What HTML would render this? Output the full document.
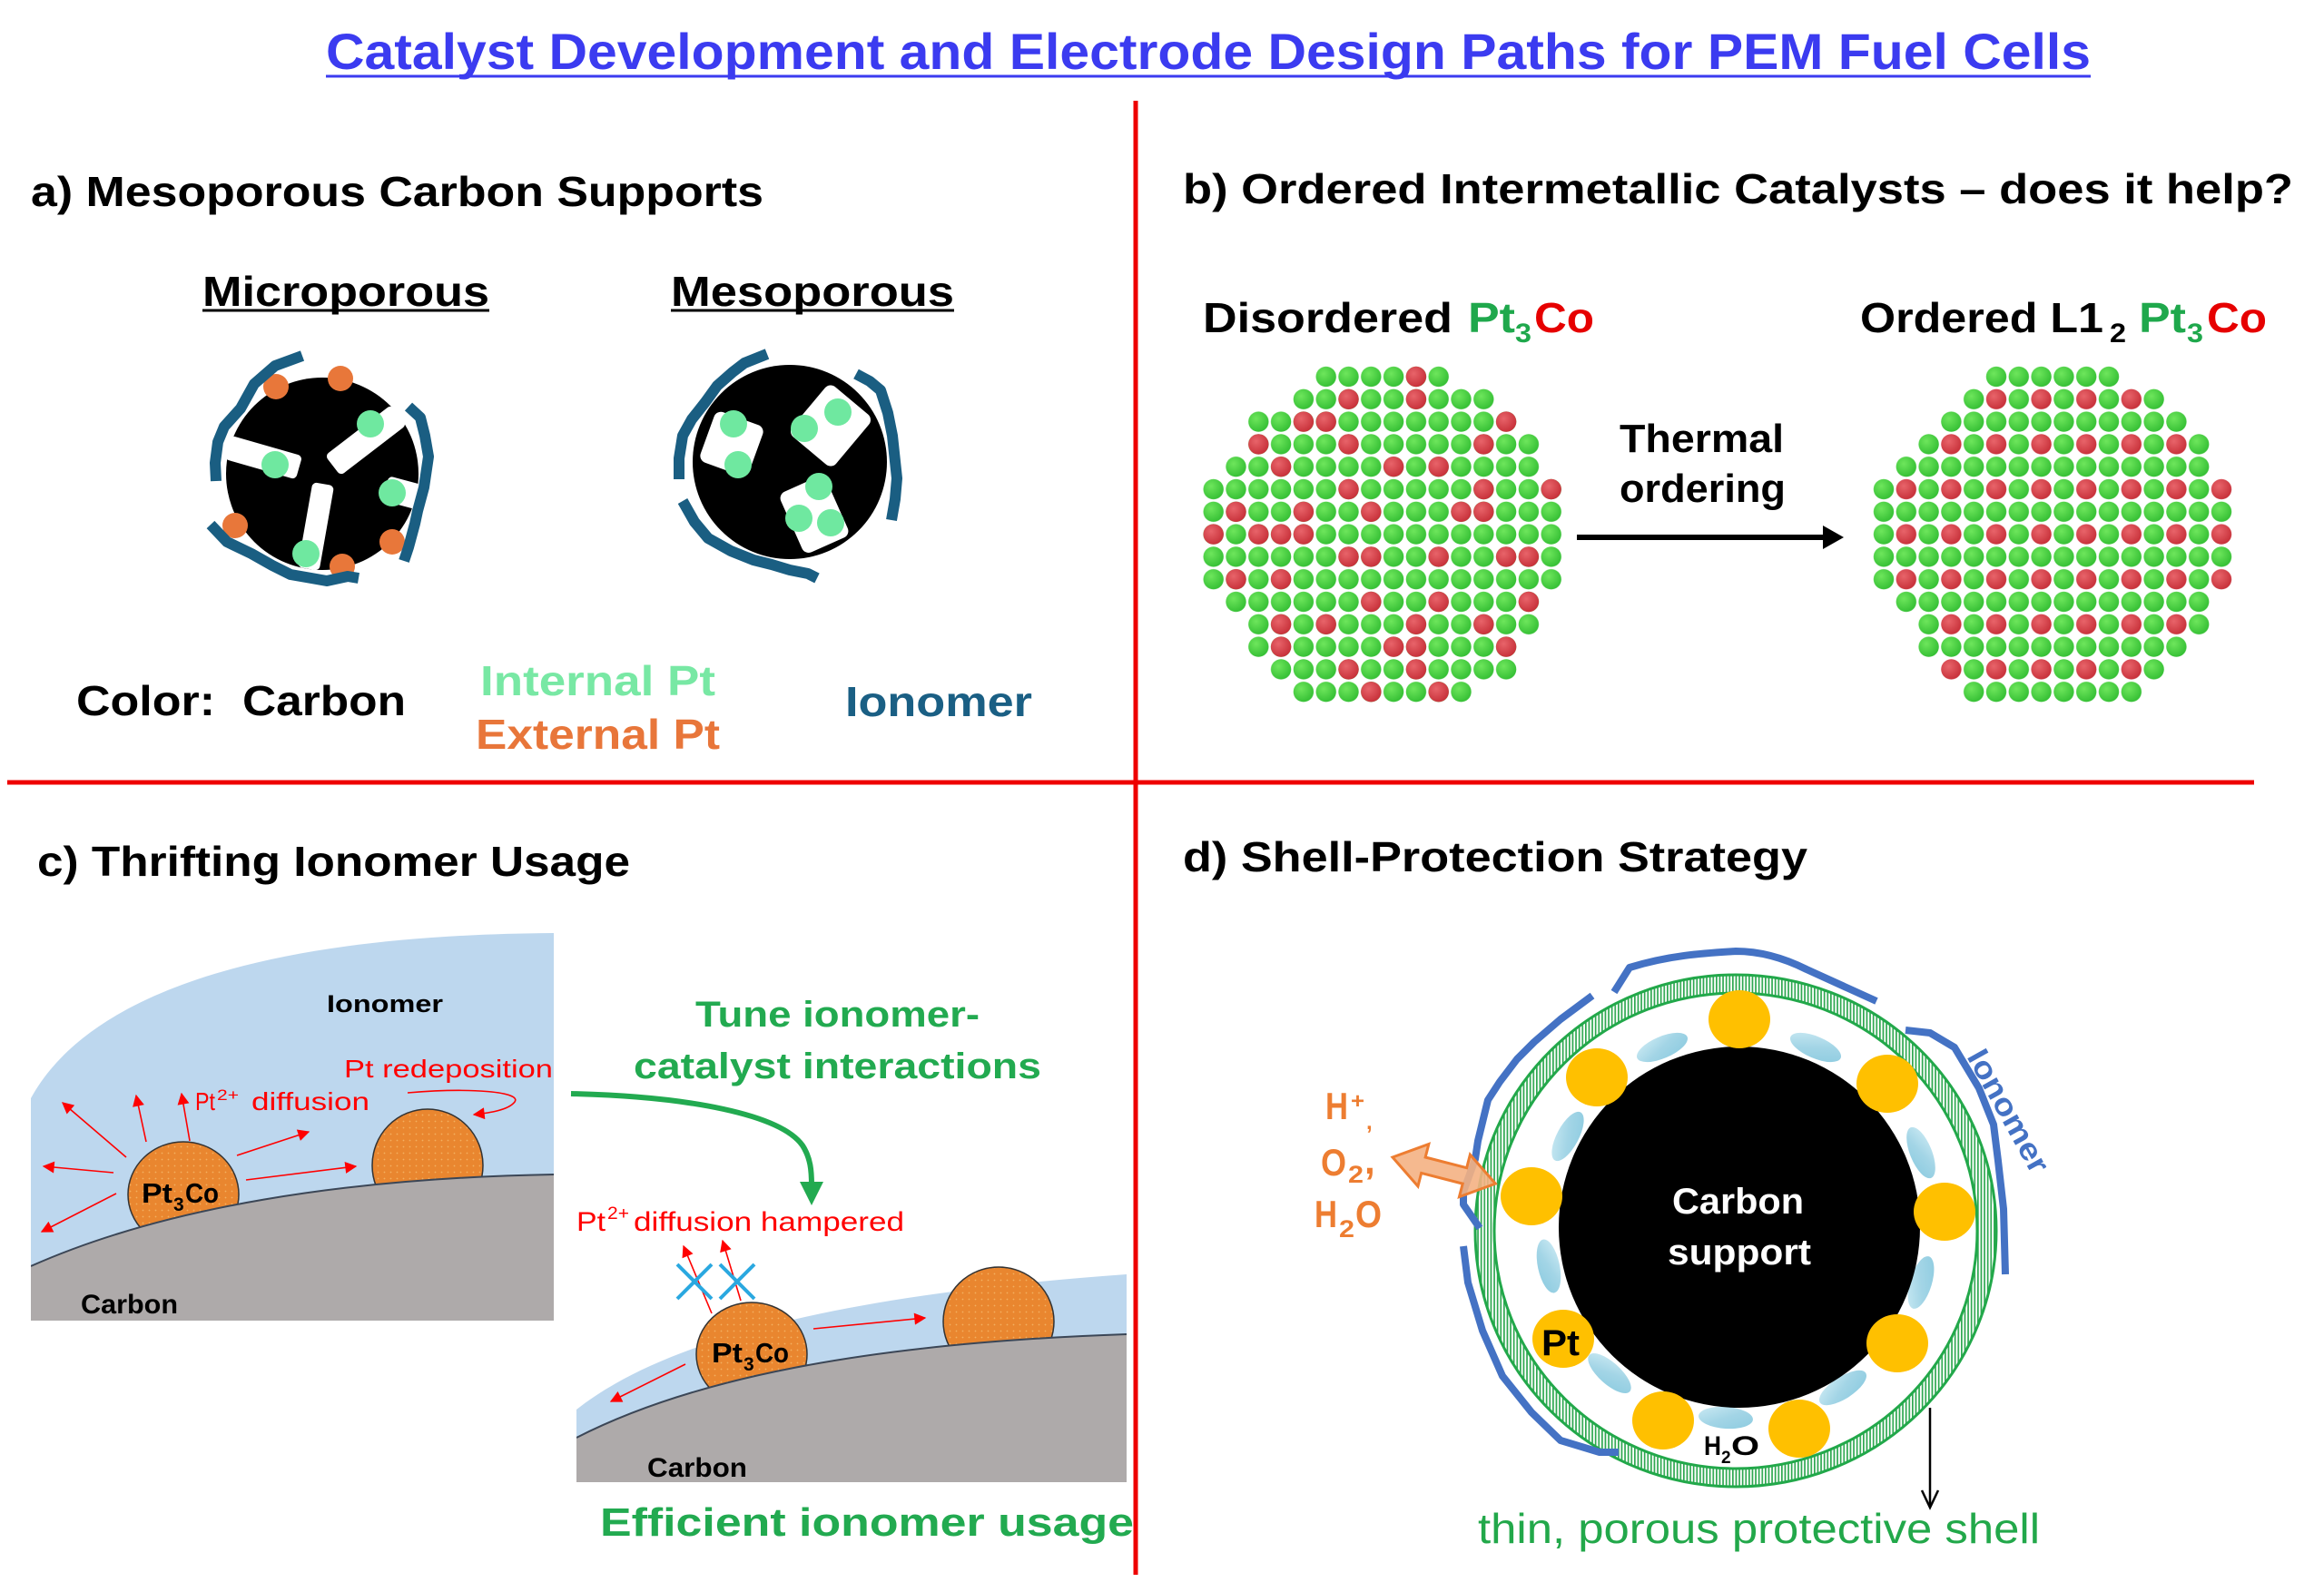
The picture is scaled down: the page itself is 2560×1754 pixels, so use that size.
<!DOCTYPE html>
<html><head><meta charset="utf-8"><style>html,body{margin:0;padding:0;background:#fff}svg{display:block}</style></head>
<body>
<svg width="2560" height="1754" viewBox="0 0 2560 1754" xmlns="http://www.w3.org/2000/svg" font-family="'Liberation Sans', Arial, sans-serif">
<defs>
<radialGradient id="gG" cx="0.38" cy="0.35" r="0.7"><stop offset="0" stop-color="#6ee65c"/><stop offset="1" stop-color="#33be33"/></radialGradient>
<radialGradient id="gR" cx="0.38" cy="0.35" r="0.7"><stop offset="0" stop-color="#e8646a"/><stop offset="1" stop-color="#c62f38"/></radialGradient>
<pattern id="pd" x="1324.3" y="402.6" width="24.8" height="24.8" patternUnits="userSpaceOnUse"><circle cx="12.4" cy="12.4" r="11.2" fill="url(#gG)"/></pattern>
<pattern id="po" x="2062.6" y="402.6" width="24.8" height="24.8" patternUnits="userSpaceOnUse"><circle cx="12.4" cy="12.4" r="11.2" fill="url(#gG)"/></pattern>
<pattern id="por" x="2062.6" y="402.6" width="49.6" height="24.8" patternUnits="userSpaceOnUse"><circle cx="12.4" cy="12.4" r="11.2" fill="url(#gG)"/><circle cx="37.2" cy="12.4" r="11.2" fill="url(#gR)"/></pattern>
<pattern id="hatch" x="0" y="0" width="3.6" height="10" patternUnits="userSpaceOnUse"><rect width="3.6" height="10" fill="#ffffff"/><rect x="0" y="0" width="1.7" height="10" fill="#2fa851"/></pattern>
<pattern id="dotsO" x="0" y="0" width="7" height="7" patternUnits="userSpaceOnUse"><rect width="7" height="7" fill="#e9862f"/><circle cx="3.5" cy="3.5" r="0.9" fill="#f3b060"/></pattern>
<linearGradient id="wg" x1="0" y1="0" x2="1" y2="1"><stop offset="0" stop-color="#cdebf4"/><stop offset="0.5" stop-color="#a3d5e6"/><stop offset="1" stop-color="#8ccbe0"/></linearGradient>
<marker id="ra" viewBox="0 0 10 10" refX="9" refY="5" markerWidth="15" markerHeight="13" markerUnits="userSpaceOnUse" orient="auto"><path d="M0,0 L10,5 L0,10 z" fill="#ff0000"/></marker>
<clipPath id="cl1"><rect x="34" y="1020" width="576" height="435"/></clipPath>
<clipPath id="cl2"><rect x="635" y="1395" width="606" height="238"/></clipPath>
</defs>

<rect width="2560" height="1754" fill="#ffffff"/>

<!-- Title -->
<text x="359" y="76" font-size="56" font-weight="bold" fill="#3b3bf0" textLength="1944" lengthAdjust="spacingAndGlyphs">Catalyst Development and Electrode Design Paths for PEM Fuel Cells</text>
<line x1="359" y1="84" x2="2303" y2="84" stroke="#3b3bf0" stroke-width="3"/>

<!-- Separators -->
<line x1="1251" y1="111" x2="1251" y2="1735" stroke="#ee0000" stroke-width="5"/>
<line x1="8" y1="862" x2="2483" y2="862" stroke="#ee0000" stroke-width="5"/>

<!-- Panel a -->
<text x="34" y="227" font-size="46" font-weight="bold" fill="#000" textLength="807" lengthAdjust="spacingAndGlyphs">a) Mesoporous Carbon Supports</text>
<text x="223" y="337" font-size="46" font-weight="bold" fill="#000" textLength="316" lengthAdjust="spacingAndGlyphs">Microporous</text>
<line x1="223" y1="342" x2="539" y2="342" stroke="#000" stroke-width="3"/>
<text x="739" y="337" font-size="46" font-weight="bold" fill="#000" textLength="312" lengthAdjust="spacingAndGlyphs">Mesoporous</text>
<line x1="739" y1="342" x2="1051" y2="342" stroke="#000" stroke-width="3"/>

<!-- Micro particle -->
<circle cx="355" cy="522" r="106" fill="#000"/>
<rect x="-41" y="-13.5" width="82" height="27" rx="5" fill="#fff" transform="translate(290,504) rotate(16)"/>
<rect x="-46" y="-14" width="92" height="28" rx="5" fill="#fff" transform="translate(403,485) rotate(-37.5)"/>
<rect x="-47.5" y="-12" width="95" height="24" rx="5" fill="#fff" transform="translate(348,580) rotate(100)"/>
<rect x="-20" y="-14" width="40" height="28" rx="5" fill="#fff" transform="translate(444,543) rotate(15)"/>
<g fill="#6fe8a0">
<circle cx="303" cy="512" r="15"/><circle cx="408" cy="467" r="15"/><circle cx="432" cy="543" r="15"/><circle cx="337" cy="610" r="15"/>
</g>
<g fill="#e8773a">
<circle cx="375" cy="417" r="14"/><circle cx="304" cy="426" r="14"/><circle cx="259" cy="579" r="14"/><circle cx="432" cy="597" r="14"/><circle cx="377" cy="624" r="14"/>
</g>
<g fill="none" stroke="#1a5e82" stroke-width="12" stroke-linejoin="round">
<polyline points="333,392 303,403 280,423 265,450 247,470 240,487 237,510 238,530"/>
<polyline points="450,448 463,460 468,480 472,503 467,537 460,563 457,577 450,603 445,618"/>
<polyline points="232,578 250,597 277,610 300,623 320,633 343,637 360,640 383,635 395,637"/>
</g>

<!-- Meso particle -->
<circle cx="870" cy="509" r="107" fill="#000"/>
<rect x="-28.5" y="-29.5" width="57" height="59" rx="8" fill="#fff" transform="translate(806,489) rotate(20)"/>
<rect x="-36" y="-31.5" width="72" height="63" rx="8" fill="#fff" transform="translate(915,469) rotate(-50)"/>
<rect x="-27.5" y="-36.5" width="55" height="73" rx="8" fill="#fff" transform="translate(897,567) rotate(-24)"/>
<g fill="#6fe8a0">
<circle cx="808" cy="467" r="15"/><circle cx="813" cy="512" r="15"/>
<circle cx="886" cy="472" r="15"/><circle cx="923" cy="454" r="15"/>
<circle cx="902" cy="536" r="15"/><circle cx="880" cy="571" r="15"/><circle cx="915" cy="576" r="15"/>
</g>
<g fill="none" stroke="#1a5e82" stroke-width="12" stroke-linejoin="round">
<polyline points="845,390 820,400 807,410 790,425 777,443 762,462 752,480 748,505 748,528"/>
<polyline points="943,412 958,420 970,430 978,455 983,480 988,527 986,550 982,573"/>
<polyline points="752,552 765,575 780,593 805,607 830,617 850,622 870,628 890,632 900,637"/>
</g>

<!-- Legend -->
<text x="84" y="788" font-size="46" font-weight="bold" fill="#000" textLength="153" lengthAdjust="spacingAndGlyphs">Color:</text>
<text x="267" y="788" font-size="46" font-weight="bold" fill="#000" textLength="180" lengthAdjust="spacingAndGlyphs">Carbon</text>
<text x="529" y="766" font-size="46" font-weight="bold" fill="#78e8a4" textLength="259" lengthAdjust="spacingAndGlyphs">Internal Pt</text>
<text x="524" y="825" font-size="46" font-weight="bold" fill="#e8763a" textLength="269" lengthAdjust="spacingAndGlyphs">External Pt</text>
<text x="931" y="789" font-size="46" font-weight="bold" fill="#1a5f84" textLength="206" lengthAdjust="spacingAndGlyphs">Ionomer</text>

<!-- Panel b -->
<text x="1303" y="224" font-size="46" font-weight="bold" fill="#000" textLength="1223" lengthAdjust="spacingAndGlyphs">b) Ordered Intermetallic Catalysts – does it help?</text>
<text x="1325" y="366" font-size="46" font-weight="bold" fill="#000" textLength="275" lengthAdjust="spacingAndGlyphs">Disordered</text>
<text x="1617" y="366" font-size="46" font-weight="bold" fill="#1fa84c" textLength="52" lengthAdjust="spacingAndGlyphs">Pt</text>
<text x="1669" y="377" font-size="30" font-weight="bold" fill="#1fa84c" textLength="18" lengthAdjust="spacingAndGlyphs">3</text>
<text x="1690" y="366" font-size="46" font-weight="bold" fill="#e60000" textLength="66" lengthAdjust="spacingAndGlyphs">Co</text>
<text x="2049" y="366" font-size="46" font-weight="bold" fill="#000" textLength="268" lengthAdjust="spacingAndGlyphs">Ordered L1</text>
<text x="2324" y="377" font-size="30" font-weight="bold" fill="#000" textLength="18" lengthAdjust="spacingAndGlyphs">2</text>
<text x="2356" y="366" font-size="46" font-weight="bold" fill="#1fa84c" textLength="52" lengthAdjust="spacingAndGlyphs">Pt</text>
<text x="2409" y="377" font-size="30" font-weight="bold" fill="#1fa84c" textLength="18" lengthAdjust="spacingAndGlyphs">3</text>
<text x="2431" y="366" font-size="46" font-weight="bold" fill="#e60000" textLength="66" lengthAdjust="spacingAndGlyphs">Co</text>

<text x="1784" y="498" font-size="44" font-weight="bold" fill="#000" textLength="181" lengthAdjust="spacingAndGlyphs">Thermal</text>
<text x="1784" y="553" font-size="44" font-weight="bold" fill="#000" textLength="183" lengthAdjust="spacingAndGlyphs">ordering</text>
<line x1="1737" y1="592" x2="2010" y2="592" stroke="#000" stroke-width="6"/>
<polygon points="2008,579 2031,592 2008,605" fill="#000"/>

<!-- Disordered cluster -->
<g fill="url(#pd)">
<rect x="1448.3" y="402.6" width="148.8" height="24.8"/>
<rect x="1423.5" y="427.4" width="223.2" height="24.8"/>
<rect x="1373.9" y="452.2" width="297.6" height="24.8"/>
<rect x="1373.9" y="477" width="322.4" height="24.8"/>
<rect x="1349.1" y="501.8" width="347.2" height="24.8"/>
<rect x="1324.3" y="526.6" width="396.8" height="24.8"/>
<rect x="1324.3" y="551.4" width="396.8" height="24.8"/>
<rect x="1324.3" y="576.2" width="396.8" height="24.8"/>
<rect x="1324.3" y="601" width="396.8" height="24.8"/>
<rect x="1324.3" y="625.8" width="396.8" height="24.8"/>
<rect x="1349.1" y="650.6" width="347.2" height="24.8"/>
<rect x="1373.9" y="675.4" width="322.4" height="24.8"/>
<rect x="1373.9" y="700.2" width="297.6" height="24.8"/>
<rect x="1398.7" y="725" width="272.8" height="24.8"/>
<rect x="1423.5" y="749.8" width="198.4" height="24.8"/>
</g>
<g fill="url(#gR)">
<circle cx="1559.9" cy="415" r="11.2"/>
<circle cx="1485.5" cy="439.8" r="11.2"/><circle cx="1559.9" cy="439.8" r="11.2"/>
<circle cx="1435.9" cy="464.6" r="11.2"/><circle cx="1460.7" cy="464.6" r="11.2"/><circle cx="1659.1" cy="464.6" r="11.2"/>
<circle cx="1386.3" cy="489.4" r="11.2"/><circle cx="1485.5" cy="489.4" r="11.2"/><circle cx="1634.3" cy="489.4" r="11.2"/>
<circle cx="1411.1" cy="514.2" r="11.2"/><circle cx="1535.1" cy="514.2" r="11.2"/><circle cx="1584.7" cy="514.2" r="11.2"/>
<circle cx="1485.5" cy="539" r="11.2"/><circle cx="1634.3" cy="539" r="11.2"/><circle cx="1708.7" cy="539" r="11.2"/>
<circle cx="1361.5" cy="563.8" r="11.2"/><circle cx="1435.9" cy="563.8" r="11.2"/><circle cx="1510.3" cy="563.8" r="11.2"/><circle cx="1609.5" cy="563.8" r="11.2"/><circle cx="1634.3" cy="563.8" r="11.2"/>
<circle cx="1336.7" cy="588.6" r="11.2"/><circle cx="1386.3" cy="588.6" r="11.2"/><circle cx="1411.1" cy="588.6" r="11.2"/><circle cx="1435.9" cy="588.6" r="11.2"/>
<circle cx="1485.5" cy="613.4" r="11.2"/><circle cx="1510.3" cy="613.4" r="11.2"/><circle cx="1584.7" cy="613.4" r="11.2"/><circle cx="1659.1" cy="613.4" r="11.2"/><circle cx="1683.9" cy="613.4" r="11.2"/>
<circle cx="1361.5" cy="638.2" r="11.2"/><circle cx="1411.1" cy="638.2" r="11.2"/>
<circle cx="1510.3" cy="663" r="11.2"/><circle cx="1584.7" cy="663" r="11.2"/><circle cx="1683.9" cy="663" r="11.2"/>
<circle cx="1411.1" cy="687.8" r="11.2"/><circle cx="1460.7" cy="687.8" r="11.2"/><circle cx="1559.9" cy="687.8" r="11.2"/><circle cx="1634.3" cy="687.8" r="11.2"/>
<circle cx="1411.1" cy="712.6" r="11.2"/><circle cx="1535.1" cy="712.6" r="11.2"/><circle cx="1559.9" cy="712.6" r="11.2"/><circle cx="1659.1" cy="712.6" r="11.2"/>
<circle cx="1485.5" cy="737.4" r="11.2"/><circle cx="1559.9" cy="737.4" r="11.2"/>
<circle cx="1510.3" cy="762.2" r="11.2"/><circle cx="1584.7" cy="762.2" r="11.2"/>
</g>

<!-- Ordered cluster -->
<rect x="2186.6" y="402.6" width="148.8" height="24.8" fill="url(#po)"/>
<rect x="2161.8" y="427.4" width="223.2" height="24.8" fill="url(#por)"/>
<rect x="2137" y="452.2" width="272.8" height="24.8" fill="url(#po)"/>
<rect x="2112.2" y="477" width="322.4" height="24.8" fill="url(#por)"/>
<rect x="2087.4" y="501.8" width="347.2" height="24.8" fill="url(#po)"/>
<rect x="2062.6" y="526.6" width="396.8" height="24.8" fill="url(#por)"/>
<rect x="2062.6" y="551.4" width="396.8" height="24.8" fill="url(#po)"/>
<rect x="2062.6" y="576.2" width="396.8" height="24.8" fill="url(#por)"/>
<rect x="2062.6" y="601" width="396.8" height="24.8" fill="url(#po)"/>
<rect x="2062.6" y="625.8" width="396.8" height="24.8" fill="url(#por)"/>
<rect x="2087.4" y="650.6" width="347.2" height="24.8" fill="url(#po)"/>
<rect x="2112.2" y="675.4" width="322.4" height="24.8" fill="url(#por)"/>
<rect x="2112.2" y="700.2" width="297.6" height="24.8" fill="url(#po)"/>
<rect x="2137" y="725" width="248" height="24.8" fill="url(#por)"/>
<rect x="2161.8" y="749.8" width="198.4" height="24.8" fill="url(#po)"/>

<!-- Panel c -->
<text x="41" y="965" font-size="46" font-weight="bold" fill="#000" textLength="653" lengthAdjust="spacingAndGlyphs">c) Thrifting Ionomer Usage</text>

<g clip-path="url(#cl1)">
<path d="M34,1455 L34,1210 C100,1090 300,1030 610,1028 L610,1455 Z" fill="#bdd7ee"/>
<ellipse cx="202" cy="1316" rx="61" ry="58" fill="url(#dotsO)" stroke="#333" stroke-width="1.5"/>
<ellipse cx="471" cy="1284" rx="61" ry="62" fill="url(#dotsO)" stroke="#333" stroke-width="1.5"/>
<path d="M34,1455 L34,1395 C180,1330 380,1298 610,1294 L610,1455 Z" fill="#aeaaaa"/>
<path d="M34,1395 C180,1330 380,1298 610,1294" fill="none" stroke="#3b4656" stroke-width="2"/>
</g>
<text x="360" y="1115" font-size="27" font-weight="bold" fill="#000" textLength="128" lengthAdjust="spacingAndGlyphs">Ionomer</text>
<text x="156" y="1325" font-size="31" font-weight="bold" fill="#000" textLength="34" lengthAdjust="spacingAndGlyphs">Pt</text>
<text x="191" y="1334" font-size="21" font-weight="bold" fill="#000">3</text>
<text x="204" y="1325" font-size="31" font-weight="bold" fill="#000" textLength="37" lengthAdjust="spacingAndGlyphs">Co</text>
<text x="89" y="1447" font-size="30" font-weight="bold" fill="#000" textLength="107" lengthAdjust="spacingAndGlyphs">Carbon</text>
<text x="215" y="1223" font-size="28" fill="#ff0000" textLength="22" lengthAdjust="spacingAndGlyphs">Pt</text>
<text x="239" y="1212" font-size="17" fill="#ff0000" textLength="24" lengthAdjust="spacingAndGlyphs">2+</text>
<text x="277" y="1223" font-size="28" fill="#ff0000" textLength="130" lengthAdjust="spacingAndGlyphs">diffusion</text>
<text x="379" y="1187" font-size="28" fill="#ff0000" textLength="230" lengthAdjust="spacingAndGlyphs">Pt redeposition</text>
<g stroke="#ff0000" stroke-width="1.6" fill="none" marker-end="url(#ra)">
<line x1="139" y1="1275" x2="69" y2="1215"/>
<line x1="161" y1="1258" x2="150" y2="1207"/>
<line x1="209" y1="1257" x2="200" y2="1205"/>
<line x1="261" y1="1273" x2="340" y2="1247"/>
<line x1="125" y1="1292" x2="48" y2="1285"/>
<line x1="128" y1="1315" x2="46" y2="1357"/>
<line x1="271" y1="1300" x2="392" y2="1285"/>
<path d="M449,1204 C520,1198 575,1203 567,1214 C560,1223 540,1226 522,1228"/>
</g>

<!-- green curved arrow -->
<path d="M629,1205 C760,1208 860,1228 884,1262 C893,1276 894,1290 894,1306" fill="none" stroke="#22aa50" stroke-width="6"/>
<polygon points="881,1302 907,1302 894,1328" fill="#22aa50"/>
<text x="766" y="1131" font-size="40" font-weight="bold" fill="#22aa50" textLength="313" lengthAdjust="spacingAndGlyphs">Tune ionomer-</text>
<text x="698" y="1188" font-size="40" font-weight="bold" fill="#22aa50" textLength="449" lengthAdjust="spacingAndGlyphs">catalyst interactions</text>
<text x="635" y="1356" font-size="30" fill="#ff0000" textLength="32" lengthAdjust="spacingAndGlyphs">Pt</text>
<text x="669" y="1343" font-size="19" fill="#ff0000" textLength="24" lengthAdjust="spacingAndGlyphs">2+</text>
<text x="698" y="1356" font-size="30" fill="#ff0000" textLength="298" lengthAdjust="spacingAndGlyphs">diffusion hampered</text>

<g clip-path="url(#cl2)">
<path d="M635,1633 L635,1553 C740,1470 950,1425 1241,1404 L1241,1633 Z" fill="#bdd7ee"/>
<ellipse cx="828" cy="1492" rx="61" ry="57" fill="url(#dotsO)" stroke="#333" stroke-width="1.5"/>
<ellipse cx="1100" cy="1456" rx="61" ry="60" fill="url(#dotsO)" stroke="#333" stroke-width="1.5"/>
<path d="M635,1633 L635,1584 C760,1520 950,1480 1241,1470 L1241,1633 Z" fill="#aeaaaa"/>
<path d="M635,1584 C760,1520 950,1480 1241,1470" fill="none" stroke="#3b4656" stroke-width="2"/>
</g>
<text x="784" y="1501" font-size="31" font-weight="bold" fill="#000" textLength="34" lengthAdjust="spacingAndGlyphs">Pt</text>
<text x="819" y="1510" font-size="21" font-weight="bold" fill="#000">3</text>
<text x="832" y="1501" font-size="31" font-weight="bold" fill="#000" textLength="37" lengthAdjust="spacingAndGlyphs">Co</text>
<text x="713" y="1627" font-size="30" font-weight="bold" fill="#000" textLength="110" lengthAdjust="spacingAndGlyphs">Carbon</text>
<g stroke="#ff0000" stroke-width="1.6" fill="none" marker-end="url(#ra)">
<line x1="896" y1="1464" x2="1019" y2="1452"/>
<line x1="755" y1="1503" x2="673" y2="1544"/>
<line x1="784" y1="1447" x2="753" y2="1373"/>
<line x1="816" y1="1433" x2="796" y2="1367"/>
</g>
<g stroke="#2aa8e0" stroke-width="4">
<line x1="746" y1="1393" x2="784" y2="1431"/><line x1="784" y1="1393" x2="746" y2="1431"/>
<line x1="793" y1="1393" x2="831" y2="1431"/><line x1="831" y1="1393" x2="793" y2="1431"/>
</g>
<text x="661" y="1692" font-size="44" font-weight="bold" fill="#22aa50" textLength="588" lengthAdjust="spacingAndGlyphs">Efficient ionomer usage</text>

<!-- Panel d -->
<text x="1303" y="960" font-size="46" font-weight="bold" fill="#000" textLength="688" lengthAdjust="spacingAndGlyphs">d) Shell-Protection Strategy</text>

<path d="M1625,1356 a287,282 0 1,0 574,0 a287,282 0 1,0 -574,0 Z M1646,1356 a266,262 0 1,0 532,0 a266,262 0 1,0 -532,0 Z" fill="url(#hatch)" fill-rule="evenodd"/>
<ellipse cx="1912" cy="1356" rx="287" ry="282" fill="none" stroke="#22a84a" stroke-width="3"/>
<ellipse cx="1912" cy="1356" rx="266" ry="262" fill="none" stroke="#22a84a" stroke-width="3"/>

<g fill="url(#wg)">
<ellipse cx="1831" cy="1154" rx="30" ry="12" transform="rotate(-23 1831 1154)"/>
<ellipse cx="2000" cy="1154" rx="30" ry="12" transform="rotate(23 2000 1154)"/>
<ellipse cx="1727" cy="1252" rx="30" ry="12" transform="rotate(-62 1727 1252)"/>
<ellipse cx="2116" cy="1270" rx="30" ry="12" transform="rotate(68 2116 1270)"/>
<ellipse cx="1706" cy="1395" rx="30" ry="12" transform="rotate(78 1706 1395)"/>
<ellipse cx="2116" cy="1413" rx="30" ry="12" transform="rotate(-73 2116 1413)"/>
<ellipse cx="1773" cy="1513" rx="30" ry="12" transform="rotate(42 1773 1513)"/>
<ellipse cx="2030" cy="1529" rx="30" ry="12" transform="rotate(-33 2030 1529)"/>
<ellipse cx="1901" cy="1562" rx="30" ry="12" transform="rotate(4 1901 1562)"/>
</g>

<circle cx="1916" cy="1352" r="199" fill="#000"/>
<g fill="#ffc000">
<ellipse cx="1916" cy="1123" rx="34" ry="32"/>
<ellipse cx="1759" cy="1187" rx="34" ry="32"/>
<ellipse cx="2079" cy="1194" rx="34" ry="32"/>
<ellipse cx="1687" cy="1318" rx="34" ry="32"/>
<ellipse cx="2142" cy="1335" rx="34" ry="32"/>
<ellipse cx="1722" cy="1475" rx="34" ry="32"/>
<ellipse cx="2090" cy="1480" rx="34" ry="32"/>
<ellipse cx="1832" cy="1565" rx="34" ry="32"/>
<ellipse cx="1982" cy="1574" rx="34" ry="32"/>
</g>

<g fill="none" stroke="#4472c4" stroke-width="8" stroke-linejoin="round">
<path d="M1778,1093 L1795,1066 C1840,1052 1880,1050 1912,1048 C1940,1048 1966,1056 1990,1068 L2067,1103"/>
<polyline points="1754,1097 1719,1123 1690,1148 1671,1167 1652,1192 1639,1212 1628,1257 1625,1277 1612,1313 1612,1327 1630,1353"/>
<polyline points="1612,1373 1617,1413 1633,1466 1655,1516 1687,1556 1719,1587 1762,1600 1783,1600"/>
<polyline points="2099,1135 2126,1138 2153,1154 2180,1199 2196,1239 2201,1279 2207,1332 2209,1404"/>
</g>

<text x="1842" y="1337" font-size="40" font-weight="bold" fill="#fff" textLength="145" lengthAdjust="spacingAndGlyphs">Carbon</text>
<text x="1837" y="1393" font-size="40" font-weight="bold" fill="#fff" textLength="158" lengthAdjust="spacingAndGlyphs">support</text>
<text x="1698" y="1493" font-size="40" font-weight="bold" fill="#000" textLength="42" lengthAdjust="spacingAndGlyphs">Pt</text>
<text x="1877" y="1603" font-size="30" font-weight="bold" fill="#000" textLength="19" lengthAdjust="spacingAndGlyphs">H</text>
<text x="1896" y="1612" font-size="19" font-weight="bold" fill="#000">2</text>
<text x="1907" y="1603" font-size="30" font-weight="bold" fill="#000" textLength="31" lengthAdjust="spacingAndGlyphs">O</text>

<text x="0" y="0" font-size="34" font-weight="bold" fill="#4472c4" textLength="150" lengthAdjust="spacingAndGlyphs" transform="translate(2166,1164) rotate(61)">Ionomer</text>

<!-- orange labels -->
<g fill="#ed7d31" font-weight="bold">
<text x="1460" y="1233" font-size="42" textLength="25" lengthAdjust="spacingAndGlyphs">H</text>
<text x="1488" y="1221" font-size="24" textLength="15" lengthAdjust="spacingAndGlyphs">+</text>
<text x="1505" y="1244" font-size="24">,</text>
<text x="1455" y="1295" font-size="42" textLength="28" lengthAdjust="spacingAndGlyphs">O</text>
<text x="1485" y="1303" font-size="27" textLength="17" lengthAdjust="spacingAndGlyphs">2</text>
<text x="1503" y="1293" font-size="42">,</text>
<text x="1448" y="1352" font-size="42" textLength="25" lengthAdjust="spacingAndGlyphs">H</text>
<text x="1475" y="1363" font-size="27" textLength="17" lengthAdjust="spacingAndGlyphs">2</text>
<text x="1493" y="1352" font-size="42" textLength="29" lengthAdjust="spacingAndGlyphs">O</text>
</g>
<polygon points="0,0 35,-24 35,-9 82,-9 82,-24 117,0 82,24 82,9 35,9 35,24" fill="#f4b183" fill-opacity="0.9" stroke="#ed7d31" stroke-width="3" stroke-linejoin="miter" transform="translate(1534,1275) rotate(14.4)"/>

<line x1="2126" y1="1551" x2="2126" y2="1659" stroke="#000" stroke-width="2.5"/>
<polyline points="2117,1642 2126,1661 2135,1642" fill="none" stroke="#000" stroke-width="2.5"/>
<text x="1628" y="1700" font-size="46" fill="#22a84a" textLength="619" lengthAdjust="spacingAndGlyphs">thin, porous protective shell</text>
</svg>
</body></html>
